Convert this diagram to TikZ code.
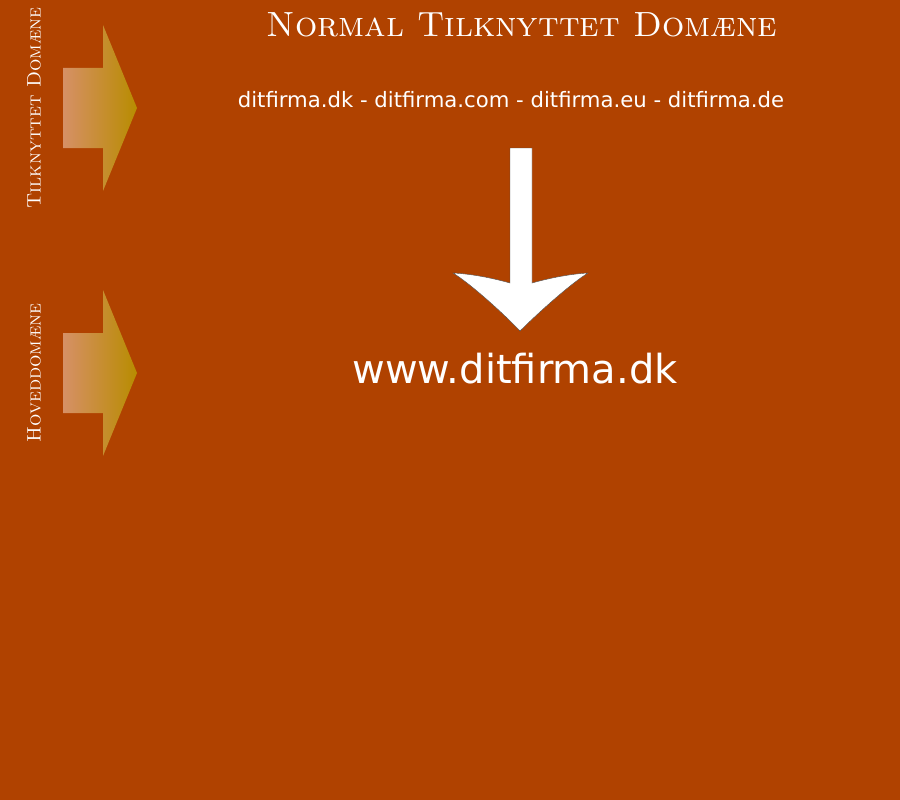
\documentclass[tikz,border=0pt]{standalone}
\usepackage{fontspec}
\newfontfamily\verdana{DejaVu Sans}
\definecolor{rust}{RGB}{176,66,0}
\definecolor{salmon}{RGB}{214,144,102}
\definecolor{gold}{RGB}{184,140,0}

\begin{document}
\begin{tikzpicture}[x=1pt, y=-1pt,
    sidelabel/.style={rotate=90, text=white, font=\fontsize{19.5}{24}\selectfont\scshape},
    bigarrow/.style={fill=white, draw=black!70, line width=0.4pt}]
    \fill[rust] (0,0) rectangle (900,800);
    \useasboundingbox (0,0) rectangle (900,800);
    \begin{scope}
      % Markers on the left
      \foreach \y / \name / \txt in {108 / tilk / Tilknyttet Domæne, 373 / hoved / Hoveddomæne} {
        \shade[left color=salmon, right color=gold]
          (63,\y-40) -- (103,\y-40) -- (103,\y-83) -- (137,\y)
          -- (103,\y+83) -- (103,\y+40) -- (63,\y+40) -- cycle;
        \node(\name)[sidelabel] at (34,\y) {\txt};
      }
    \end{scope}
    \begin{scope}[text=white]
      % Domains
      \node(title)  at (522,25)  {\fontsize{35}{42}\selectfont\scshape Normal Tilknyttet Domæne};
      \node(domains) at (511,100) {\verdana\fontsize{21.2}{25}\selectfont ditfirma.dk - ditfirma.com - ditfirma.eu - ditfirma.de};
      \node(main)   at (515,369) {\verdana\fontsize{40}{48}\selectfont www.ditfirma.dk};
    \end{scope}
    % Big arrow between the two
    \filldraw[bigarrow] (510,148) -- (532,148) -- (532,283)
      .. controls (550,278) and (570,274) .. (588,273)
      .. controls (573,282) and (541,310) .. (520,331)
      .. controls (500,310) and (468,282) .. (453,273)
      .. controls (472,274) and (492,278) .. (510,283) -- cycle;
  \end{tikzpicture}
\end{document}
